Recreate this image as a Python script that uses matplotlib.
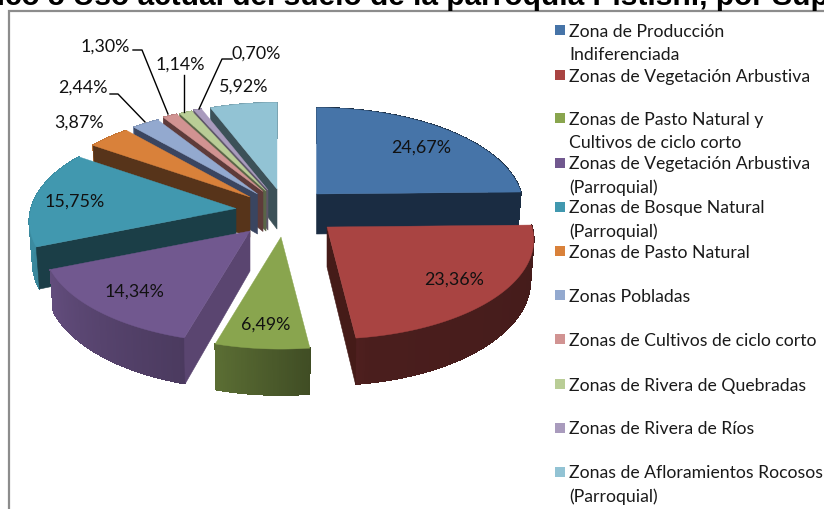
import numpy as np
import matplotlib
matplotlib.use("Agg")
import matplotlib.pyplot as plt
from matplotlib.patches import Polygon, Rectangle
from matplotlib.colors import to_rgb

# ---- data ----
categories = ["Zona de Producción\nIndiferenciada", "Zonas de Vegetación Arbustiva",
              "Zonas de Pasto Natural y\nCultivos de ciclo corto",
              "Zonas de Vegetación Arbustiva\n(Parroquial)", "Zonas de Bosque Natural\n(Parroquial)",
              "Zonas de Pasto Natural", "Zonas Pobladas", "Zonas de Cultivos de ciclo corto",
              "Zonas de Rivera de Quebradas", "Zonas de Rivera de Ríos",
              "Zonas de Afloramientos Rocosos\n(Parroquial)"]
values = [24.67, 23.36, 6.49, 14.34, 15.75, 3.87, 2.44, 1.30, 1.14, 0.70, 5.92]
title = "Gráfico 5 Uso actual del suelo de la parroquia Pistishí, por Superficie"

# ---- style / layout ----
top_colors = ["#4674A8", "#A94442", "#89A54E", "#71588F", "#4198AF", "#D9813A",
              "#93A9CF", "#D19392", "#B9CD96", "#A99BBD", "#92C3D4"]
wall_colors = ["#1A2C42", "#451B18", "#4D5C2B", "#5A4570", "#1B3E47", "#57341A",
               "#3A4560", "#5E3B3A", "#5A6547", "#5E5668", "#3C5158"]
apex = [(316.5, 194), (327, 227), (281, 237), (250, 231), (236, 208.5), (250, 197),
        (257.5, 194), (263, 191.5), (266, 191), (268, 190), (277, 189)]
draw_order = [10, 9, 8, 7, 6, 5, 4, 3, 0, 1, 2]
label_pos = [(421, 148), (454, 280), (266, 325), (134, 292), (75, 202), (79, 123),
             (83, 88), (105, 47), (180, 65), (256, 54), (244, 87)]
leaders = {6: [(110, 94), (118, 94), (145, 122)],
           7: [(133, 50), (142, 50), (168, 114)],
           8: [(184, 75), (184, 112)],
           9: [(232, 59), (222, 59), (199, 109)]}
legend_y = [30, 75, 118, 163, 207, 251, 295, 339, 384, 428, 472]
LEGEND_LINE = 23
R, RY, K, DEPTH = 205.0, 97.5, 0.13, 40.0
FONT = "Lato"


def project(ax0, th, depth=0.0):
    x, y = np.sin(th), -np.cos(th)
    s = 1 / (1 - K * y)
    return (ax0[0] + x * R * s * (1 - depth * 0.0004),
            ax0[1] + y * RY * s + depth * s)


def arc_shade(deg):
    return np.interp(deg, [0, 90, 170, 196, 250, 290, 360],
                     [.40, .40, .44, .66, .88, .95, .8])


fig = plt.figure(figsize=(8.24, 5.09), dpi=100)
ax = fig.add_axes([0, 0, 1, 1])
ax.set_xlim(0, 824)
ax.set_ylim(509, 0)
ax.axis("off")

ax.add_patch(Rectangle((9.5, 10.5), 900, 600, fc="white", ec="#8C8C8C", lw=1.6))

cum = np.concatenate([[0], np.cumsum(values)]) / np.sum(values) * 2 * np.pi

for i in draw_order:
    a0, a1 = cum[i], cum[i + 1]
    c0 = apex[i]
    ths = np.linspace(a0, a1, max(3, int(np.degrees(a1 - a0) / 0.5)))
    top_x, top_y = project(c0, ths)
    bot_x, bot_y = project(c0, ths, DEPTH)
    bottom_apex = (c0[0], c0[1] + DEPTH)
    kw = dict(lw=0.4, joinstyle="round")
    # smooth outline of the outer wall, then solid shaded strips on top of it
    mean = np.array(to_rgb(top_colors[i])) * arc_shade(np.degrees((a0 + a1) / 2))
    outline = list(zip(top_x, top_y)) + list(zip(bot_x[::-1], bot_y[::-1]))
    ax.add_patch(Polygon(outline, fc=mean, ec=mean, **kw))
    for k in range(len(ths) - 1):
        mid = np.degrees((ths[k] + ths[k + 1]) / 2)
        col = np.array(to_rgb(top_colors[i])) * arc_shade(mid)
        pts = [(top_x[k], top_y[k]), (top_x[k + 1], top_y[k + 1]),
               (bot_x[k + 1], bot_y[k + 1]), (bot_x[k], bot_y[k])]
        ax.add_patch(Polygon(pts, fc=col, ec=col, lw=0.5, antialiased=False))
    # radial walls that face the viewer go in front of the outer wall
    for j, visible in ((0, a0 > np.pi), (-1, a1 < np.pi)):
        if visible:
            pts = [c0, (top_x[j], top_y[j]), (bot_x[j], bot_y[j]), bottom_apex]
            ax.add_patch(Polygon(pts, fc=wall_colors[i], ec=wall_colors[i], **kw))
    pts = [c0] + list(zip(top_x, top_y))
    ax.add_patch(Polygon(pts, fc=top_colors[i], ec=top_colors[i], lw=0.3))

for i, v in enumerate(values):
    ax.text(*label_pos[i], f"{v:.2f}".replace(".", ",") + "%", family=FONT, fontsize=12.9,
            color="#111111", ha="center", va="center")
for pts in leaders.values():
    xs, ys = zip(*pts)
    ax.plot(xs, ys, color="black", lw=1.0)

for i, name in enumerate(categories):
    ax.add_patch(Rectangle((555, legend_y[i] - 5), 10, 10, fc=top_colors[i], ec="none"))
    for n, line in enumerate(name.split("\n")):
        ax.text(569, legend_y[i] + n * LEGEND_LINE, line, family=FONT, fontsize=12.7,
                color="#1A1A1A", ha="left", va="center_baseline")

ax.text(426, 5, title, family="Liberation Sans", fontsize=21.5, fontweight="bold",
        ha="center", va="baseline", color="black")

fig.savefig("out.png", dpi=100)
